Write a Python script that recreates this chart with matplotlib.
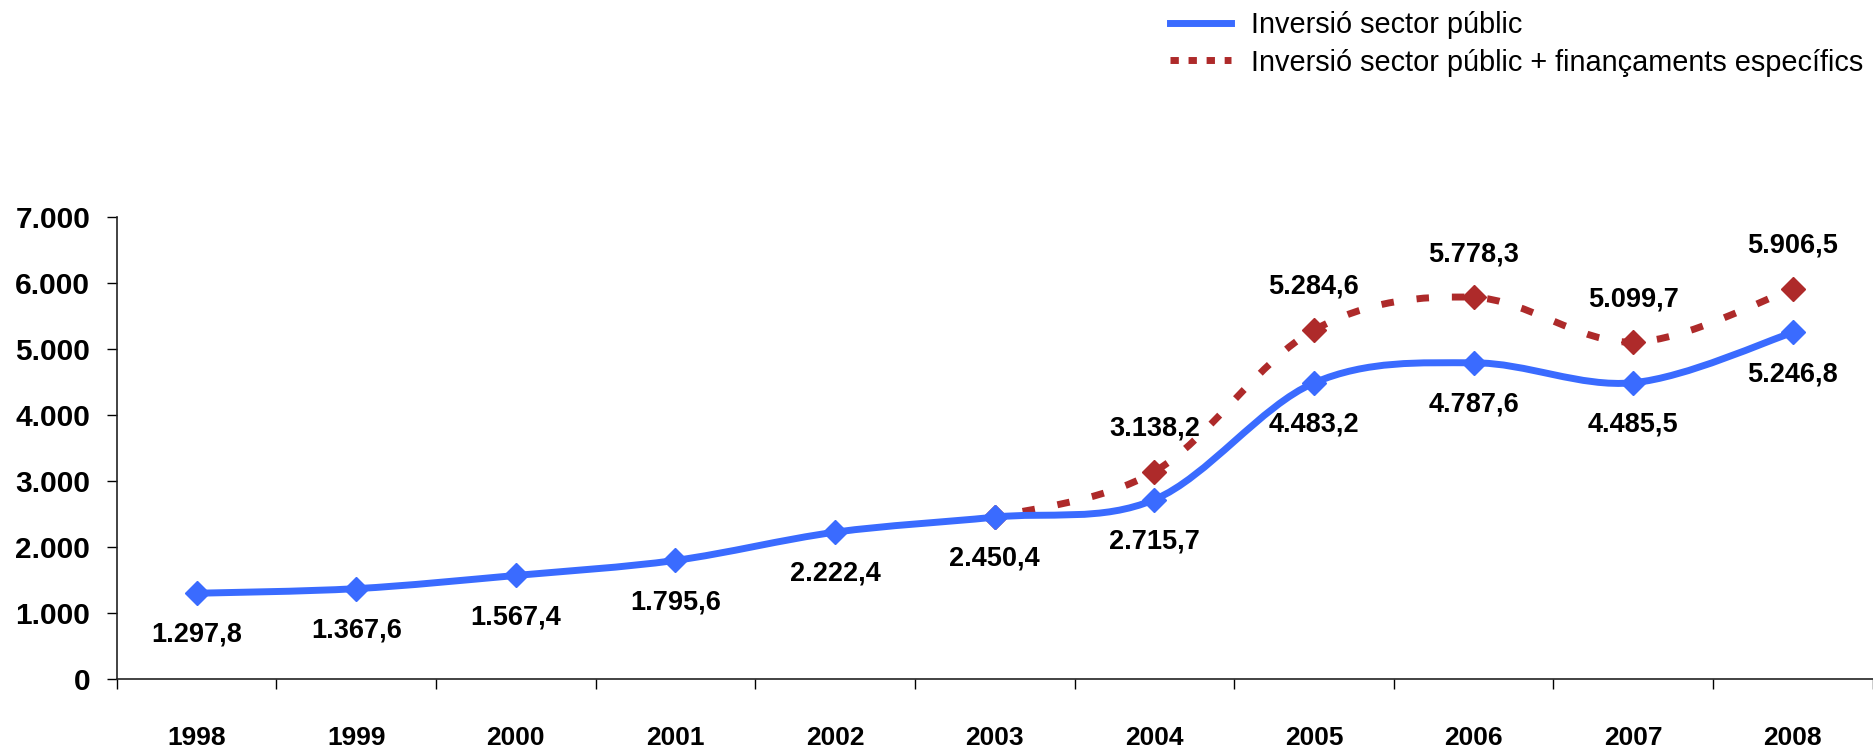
import numpy as np
import matplotlib
matplotlib.use("Agg")
import matplotlib.pyplot as plt
from matplotlib.path import Path
from matplotlib.patches import PathPatch
from matplotlib.lines import Line2D
from matplotlib.ticker import FuncFormatter, FixedLocator

plt.rcParams["font.family"] = ["Liberation Sans", "DejaVu Sans"]

# ── data ────────────────────────────────────────────────────────────────
years = ["1998", "1999", "2000", "2001", "2002", "2003",
         "2004", "2005", "2006", "2007", "2008"]
public_inv = [1297.8, 1367.6, 1567.4, 1795.6, 2222.4, 2450.4,
              2715.7, 4483.2, 4787.6, 4485.5, 5246.8]
# second series starts in 2003 (same value as public investment)
total_start = 5
total_inv = [2450.4, 3138.2, 5284.6, 5778.3, 5099.7, 5906.5]

label_public = "Inversió sector públic"
label_total = "Inversió sector públic + finançaments específics"

BLUE = "#3A6BFF"
RED = "#AE2A2A"


def fmt_num(v, dec=1):
    s = f"{v:,.{dec}f}"
    return s.replace(",", "X").replace(".", ",").replace("X", ".")


def smooth_path(xs, ys):
    # Excel-like smoothed line: cubic Bezier through every point
    pts = np.column_stack([xs, ys]).astype(float)
    verts = [pts[0]]
    codes = [Path.MOVETO]
    n = len(pts)
    for i in range(n - 1):
        p0 = pts[i - 1] if i > 0 else pts[i]
        p1 = pts[i]
        p2 = pts[i + 1]
        p3 = pts[i + 2] if i + 2 < n else pts[i + 1]
        c1 = p1 + (p2 - p0) / 6.0
        c2 = p2 - (p3 - p1) / 6.0
        verts += [c1, c2, p2]
        codes += [Path.CURVE4] * 3
    return Path(verts, codes)


fig = plt.figure(figsize=(18.74, 7.49), dpi=100)
ax = fig.add_axes([0.0623, 0.0935, 0.9370, 0.6172])

x_pub = np.arange(len(years))
x_tot = np.arange(total_start, total_start + len(total_inv))

# red dashed series (drawn below the blue one)
red_patch = PathPatch(smooth_path(x_tot, total_inv), facecolor="none",
                      edgecolor=RED, lw=5, linestyle=(1, (1.8, 3.3)),
                      capstyle="butt", zorder=2)
ax.add_patch(red_patch)
ax.plot(x_tot, total_inv, ls="none", marker="D", ms=12.5, color=RED,
        mec=RED, zorder=3)

blue_patch = PathPatch(smooth_path(x_pub, public_inv), facecolor="none",
                       edgecolor=BLUE, lw=5, capstyle="round",
                       joinstyle="round", zorder=4)
ax.add_patch(blue_patch)
ax.plot(x_pub, public_inv, ls="none", marker="D", ms=12.5, color=BLUE,
        mec=BLUE, zorder=5)

# data labels
for xi, v in zip(x_pub, public_inv):
    ax.annotate(fmt_num(v), (xi, v), xytext=(0, -30), textcoords="offset points",
                ha="center", va="center", fontsize=19.5, fontweight="bold")
for xi, v in zip(x_tot[1:], total_inv[1:]):
    ax.annotate(fmt_num(v), (xi, v), xytext=(0, 31), textcoords="offset points",
                ha="center", va="center", fontsize=19.5, fontweight="bold")

# axes
ax.set_xlim(-0.5, len(years) - 0.5)
ax.set_ylim(0, 7000)
ax.set_yticks(np.arange(0, 7001, 1000))
ax.yaxis.set_major_formatter(FuncFormatter(lambda v, p: fmt_num(v, 0)))
ax.tick_params(axis="y", length=7, width=1, pad=12, labelsize=21.5)
for lbl in ax.get_yticklabels():
    lbl.set_fontweight("bold")

ax.xaxis.set_major_locator(FixedLocator(np.arange(-0.5, len(years), 1.0)))
ax.xaxis.set_minor_locator(FixedLocator(x_pub))
ax.set_xticklabels([], minor=False)
ax.set_xticklabels(years, minor=True, fontsize=19, fontweight="bold")
ax.tick_params(axis="x", which="major", direction="out", length=7, width=1)
ax.tick_params(axis="x", which="minor", length=0, pad=34)

for s in ["top", "right"]:
    ax.spines[s].set_visible(False)
for s in ["left", "bottom"]:
    ax.spines[s].set_linewidth(1.2)
    ax.spines[s].set_color("#222222")

# legend
handles = [Line2D([], [], color=BLUE, lw=5),
           Line2D([], [], color=RED, lw=5, linestyle=(0, (1.2, 1.4)),
                  dash_capstyle="butt")]
fig.legend(handles, [label_public, label_total], loc="upper left",
           bbox_to_anchor=(1170 / 1874, 1 - 11 / 749), frameon=False,
           fontsize=20.8, handlelength=2.1, handletextpad=0.72,
           labelspacing=0.33, borderaxespad=0, borderpad=0)

fig.savefig("out.png", dpi=100)
